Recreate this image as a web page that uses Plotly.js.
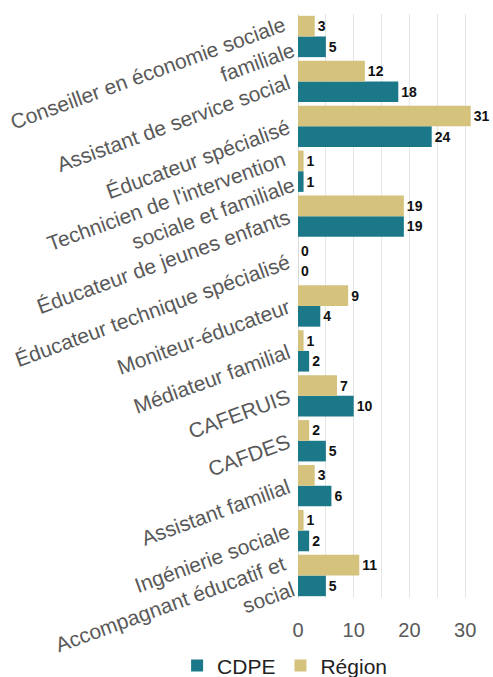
<!DOCTYPE html>
<html>
<head>
<meta charset="utf-8">
<script src="https://cdn.plot.ly/plotly-3.0.1.min.js"></script>
<style>html,body{margin:0;padding:0;background:#fff;}#chart{width:493px;height:677px;}</style>
</head>
<body>
<div id="chart"></div>
<script>
const categories = [
  "Conseiller en économie sociale<br>familiale",
  "Assistant de service social",
  "Éducateur spécialisé",
  "Technicien de l'intervention<br>sociale et familiale",
  "Éducateur de jeunes enfants",
  "Éducateur technique spécialisé",
  "Moniteur-éducateur",
  "Médiateur familial",
  "CAFERUIS",
  "CAFDES",
  "Assistant familial",
  "Ingénierie sociale",
  "Accompagnant éducatif et<br>social"
];
const cdpe = [5, 18, 24, 1, 19, 0, 4, 2, 10, 5, 6, 2, 5];
const region = [3, 12, 31, 1, 19, 0, 9, 1, 7, 2, 3, 1, 11];
const xTicks = [0, 10, 20, 30];

const font = "'Liberation Sans', Arial, sans-serif";
const labelFont = {family: font, size: 14, color: "#111"};

const traces = [
  {
    type: "bar", orientation: "h", name: "CDPE",
    x: cdpe, y: categories,
    marker: {color: "#1b7889"},
    text: cdpe.map(String), textposition: "outside", cliponaxis: false,
    texttemplate: "<b>%{text}</b>",
    textfont: labelFont
  },
  {
    type: "bar", orientation: "h", name: "Région",
    x: region, y: categories,
    marker: {color: "#d5c27c"},
    text: region.map(String), textposition: "outside", cliponaxis: false,
    texttemplate: "<b>%{text}</b>",
    textfont: labelFont
  }
];

const layout = {
  width: 493, height: 677,
  margin: {l: 298, r: 0, t: 14, b: 79, autoexpand: false},
  paper_bgcolor: "#fff", plot_bgcolor: "#fff",
  barmode: "group", bargap: 0.08, bargroupgap: 0,
  font: {family: font, size: 20, color: "#595959"},
  xaxis: {
    range: [0, 35], tickvals: xTicks, ticktext: xTicks.map(String),
    showgrid: true, gridcolor: "#e6e6e6", gridwidth: 1,
    minor: {dtick: 5, tick0: 0, showgrid: true, gridcolor: "#e6e6e6", gridwidth: 1},
    zeroline: true, zerolinecolor: "#d9d9d9", zerolinewidth: 1,
    showline: false, ticks: "", ticklabelstandoff: 18,
    tickfont: {family: font, size: 20, color: "#595959"},
    automargin: false, fixedrange: true
  },
  yaxis: {
    type: "category",
    categoryorder: "array", categoryarray: categories.slice().reverse(),
    tickangle: -20, ticks: "", showgrid: false, showline: false,
    ticklabelstandoff: 9,
    tickfont: {family: font, size: 21, color: "#595959"},
    automargin: false, fixedrange: true
  },
  legend: {
    orientation: "h",
    x: -0.62, xanchor: "left", y: -0.116, yanchor: "middle",
    font: {family: font, size: 21, color: "#222"},
    traceorder: "normal"
  },
  showlegend: true
};

Plotly.newPlot("chart", traces, layout, {displayModeBar: false, staticPlot: true});
</script>
</body>
</html>
